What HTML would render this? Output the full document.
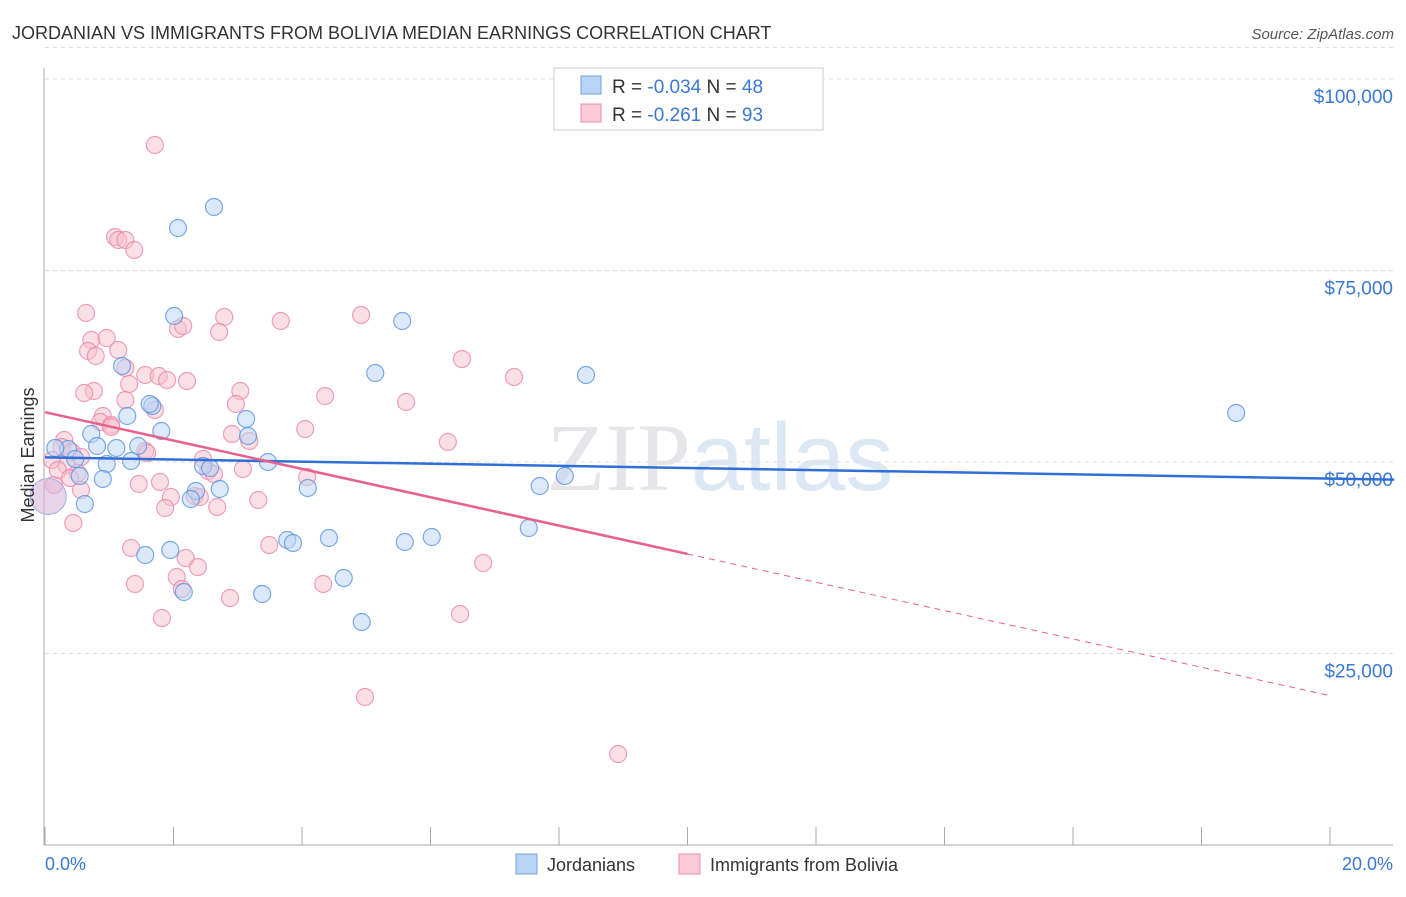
<!DOCTYPE html>
<html><head><meta charset="utf-8"><style>
body{margin:0;background:#fff;font-family:"Liberation Sans",sans-serif;}
</style></head><body>
<svg id="c" width="1406" height="892" xmlns="http://www.w3.org/2000/svg">
<text x="12" y="39" font-size="18" fill="#333">JORDANIAN VS IMMIGRANTS FROM BOLIVIA MEDIAN EARNINGS CORRELATION CHART</text>
<text x="1394" y="39" font-size="15" fill="#555" font-style="italic" text-anchor="end">Source: ZipAtlas.com</text>
<text x="720" y="490" font-size="96" fill="#e6e6ea" text-anchor="middle" font-family="Liberation Serif">ZIP<tspan fill="#dde8f5" font-family="Liberation Sans">atlas</tspan></text>
<g id="grid"></g><g id="pts"></g><g id="lines"></g>
<text transform="translate(34,455) rotate(-90)" font-size="18" fill="#333" text-anchor="middle">Median Earnings</text>
<text x="45" y="870" font-size="18" fill="#3a78d6">0.0%</text>
<text x="1393" y="870" font-size="18" fill="#3a78d6" text-anchor="end">20.0%</text>
<g>
<rect x="554" y="68" width="269" height="62" fill="#fff" stroke="#ccc"/>
<rect x="581" y="76" width="20" height="18" fill="#b9d3f5" stroke="#6fa0e0"/>
<rect x="581" y="104" width="20" height="18" fill="#fbc9d7" stroke="#ea8fab"/>
<text x="612" y="93" font-size="19" fill="#333">R = <tspan fill="#3a78d6">-0.034</tspan>   N = <tspan fill="#3a78d6">48</tspan></text>
<text x="612" y="121" font-size="19" fill="#333">R =  <tspan fill="#3a78d6">-0.261</tspan>   N = <tspan fill="#3a78d6">93</tspan></text>
</g>
<g>
<rect x="516" y="854" width="21" height="20" fill="#b9d3f5" stroke="#6fa0e0"/>
<text x="547" y="871" font-size="18" fill="#333">Jordanians</text>
<rect x="679" y="854" width="21" height="20" fill="#fbc9d7" stroke="#ea8fab"/>
<text x="710" y="871" font-size="18" fill="#333">Immigrants from Bolivia</text>
</g>
</svg>
<script>
const yTicks=[25000,50000,75000,100000];
const yTickLabels=["$25,000","$50,000","$75,000","$100,000"];
const xTicks=[0,2,4,6,8,10,12,14,16,18,20];
const bluePx=[[214,207],[178,228],[174,316],[402,321],[375,373],[586,375],[122,366],[152,406],[127,416],[246,419],[161,431],[248,436],[91,434],[97,446],[116,448],[138,446],[68,449],[55,448],[75,459],[107,464],[131,461],[203,466],[268,462],[220,489],[196,491],[191,499],[85,504],[103,479],[308,488],[540,486],[565,476],[1236,413],[529,528],[432,537],[405,542],[329,538],[287,540],[293,543],[170,550],[145,555],[344,578],[262,594],[184,592],[362,622],[80,476],[150,404],[210,468]];
const pinkPx=[[155,145],[115,237],[118,240],[125,240],[134,250],[86,313],[224,317],[281,321],[361,315],[178,329],[183,326],[219,332],[91,340],[107,338],[88,351],[118,350],[96,356],[462,359],[125,368],[514,377],[145,375],[159,376],[167,380],[187,381],[129,384],[240,391],[94,391],[84,393],[325,396],[406,402],[125,400],[236,404],[155,410],[103,416],[100,422],[111,425],[305,429],[232,434],[249,441],[64,440],[62,447],[448,442],[145,451],[72,452],[81,457],[203,459],[66,465],[243,469],[208,471],[214,474],[78,473],[307,477],[54,485],[81,490],[139,484],[160,482],[171,497],[195,496],[258,500],[217,507],[165,508],[73,523],[131,548],[269,545],[186,558],[198,567],[483,563],[177,577],[135,584],[182,589],[323,584],[230,598],[460,614],[162,618],[365,697],[618,754],[52,460],[58,470],[70,478],[200,497],[147,453],[111,427]];
// convert picture readings to data values (x %, y $)
const blueX=bluePx.map(p=>+((p[0]-45)/64.25).toFixed(2)), blueY=bluePx.map(p=>Math.round((845-p[1])/191.5*25000));
const pinkX=pinkPx.map(p=>+((p[0]-45)/64.25).toFixed(2)), pinkY=pinkPx.map(p=>Math.round((845-p[1])/191.5*25000));
const blueTrend=[[0,50600],[21,47700]];
const pinkTrend=[[0,56500],[10,38000],[20,19500]];
const sx=v=>45+v*64.25, sy=v=>845-v/25000*191.5;
const NS="http://www.w3.org/2000/svg";
function mk(t,a,p){const e=document.createElementNS(NS,t);for(const k in a)e.setAttribute(k,a[k]);p.appendChild(e);return e;}
const g=document.getElementById('grid');
yTicks.forEach((v,i)=>{
 const l=mk('line',{x1:45,x2:1393,y1:sy(v),y2:sy(v),stroke:'#ddd','stroke-dasharray':'4,4'},g);
 
 
 const t=mk('text',{x:1393,y:sy(v)+24,'font-size':19,fill:'#3a78d6','text-anchor':'end'},g);t.textContent=yTickLabels[i];
 
 
});
mk('line',{x1:45,x2:1393,y1:sy(104500)+3,y2:sy(104500)+3,stroke:'#ddd','stroke-dasharray':'4,4'},g);
mk('line',{x1:44,x2:44,y1:68,y2:845,stroke:'#aaa'},g);
mk('line',{x1:44,x2:1393,y1:845,y2:845,stroke:'#aaa'},g);
xTicks.forEach(v=>{const l=mk('line',{x1:sx(v),x2:sx(v),y1:827,y2:845,stroke:'#aaa'},g);
 
 });
const P=document.getElementById('pts');
function dots(X,Y,fill,stroke,name){X.forEach((x,i)=>{const c=mk('circle',{cx:sx(x),cy:sy(Y[i]),r:8.5,fill:fill,'fill-opacity':0.5,stroke:stroke,'stroke-opacity':0.8,'stroke-width':1.2},P);
 
 });}
dots(pinkX,pinkY,'#f8bfd0','#e889a8','bolivia-point');
dots(blueX,blueY,'#b9d3f5','#5b93dd','jordanian-point');
const big=mk('circle',{cx:sx(0.05),cy:sy(45500),r:18,fill:'#d9b8d8','fill-opacity':0.6,stroke:'#9fb0e0'},P);


const L=document.getElementById('lines');
const bl=mk('line',{x1:sx(blueTrend[0][0]),y1:sy(blueTrend[0][1]),x2:sx(blueTrend[1][0]),y2:sy(blueTrend[1][1]),stroke:'#2f6fd6','stroke-width':2.5},L);


const pl=mk('line',{x1:sx(pinkTrend[0][0]),y1:sy(pinkTrend[0][1]),x2:sx(pinkTrend[1][0]),y2:sy(pinkTrend[1][1]),stroke:'#e8608c','stroke-width':2.5},L);


const pd=mk('line',{x1:sx(pinkTrend[1][0]),y1:sy(pinkTrend[1][1]),x2:sx(pinkTrend[2][0]),y2:sy(pinkTrend[2][1]),stroke:'#e8608c','stroke-width':1,'stroke-dasharray':'6,5'},L);


</script>
</body></html>
